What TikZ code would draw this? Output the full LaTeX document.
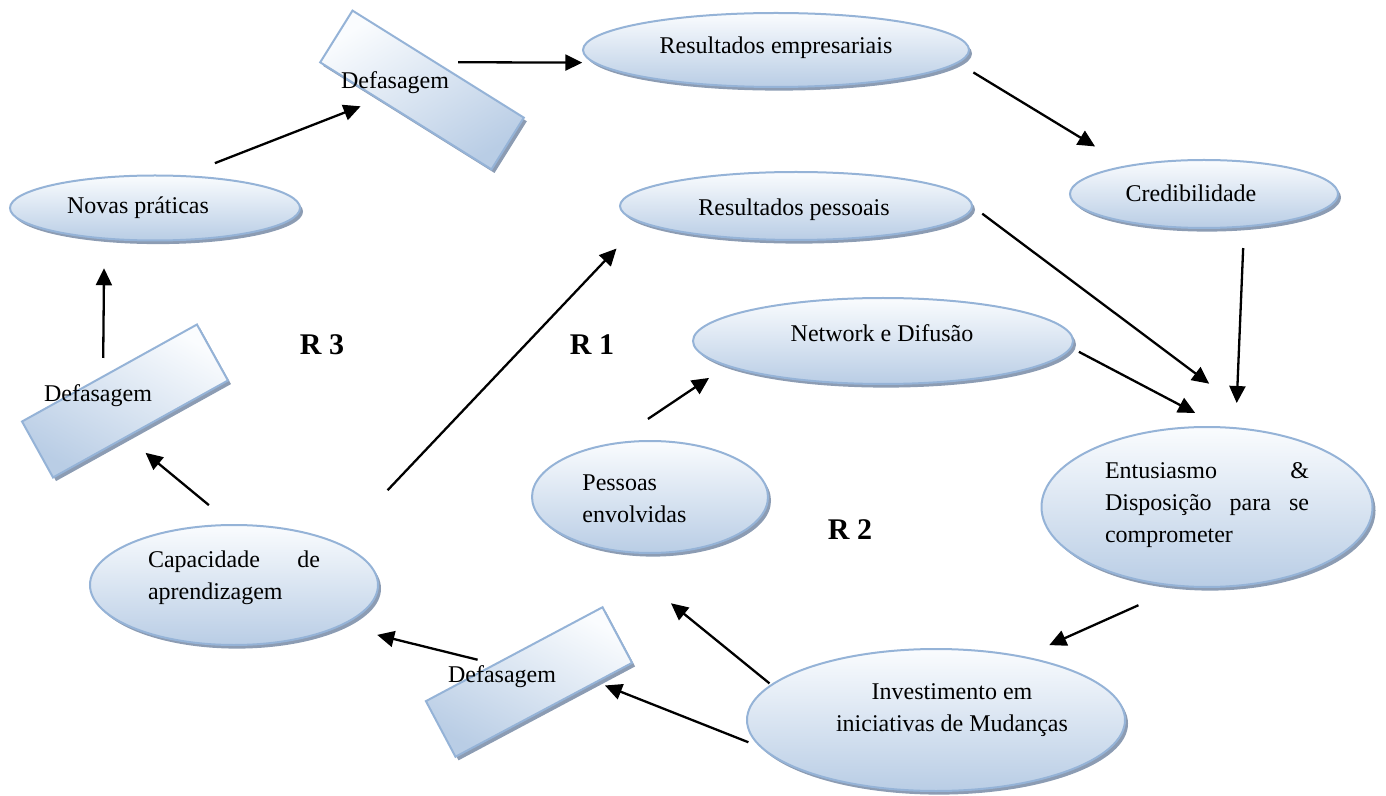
\documentclass[tikz,border=0pt]{standalone}
\usepackage{fontspec}
\setmainfont{Liberation Serif}
\usetikzlibrary{shapes.geometric,shadows,arrows.meta}
\definecolor{edgeb}{HTML}{95B3D7}
\definecolor{topc}{HTML}{FAFCFE}
\definecolor{botc}{HTML}{B9CDE5}
\definecolor{shadc}{HTML}{8C9CB3}
\begin{document}
\begin{tikzpicture}[x=0.5pt,y=-0.5pt,
 shad/.style={drop shadow={shadow xshift=1.5pt, shadow yshift=-1.8pt, fill=shadc, opacity=1}},
 bub/.style={ellipse, draw=edgeb, line width=1pt, top color=topc, bottom color=botc, inner sep=0pt, outer sep=0pt, shad},
 lagbox/.style={rectangle, draw=edgeb, line width=1pt, inner sep=0pt, outer sep=0pt, shad},
 txt/.style={inner sep=0pt, font=\fontsize{12}{16}\selectfont},
 rlab/.style={inner sep=0pt, font=\fontsize{15}{18}\selectfont\bfseries},
 arr/.style={-{Triangle[length=8.5pt,width=8pt]}, line width=1.15pt, black}]
\useasboundingbox (0,0) rectangle (1386,796);
% ellipses
\node[bub, minimum width=193pt, minimum height=37pt] (emp) at (776,50) {};
\node[bub, minimum width=134pt, minimum height=34pt] (cred) at (1204,194) {};
\node[bub, minimum width=176pt, minimum height=34pt] (pes) at (796,206) {};
\node[bub, minimum width=145pt, minimum height=32.5pt] (nov) at (155,208) {};
\node[bub, minimum width=190pt, minimum height=43pt] (net) at (883,341) {};
\node[bub, minimum width=118pt, minimum height=56pt] (pess) at (650,497) {};
\node[bub, minimum width=165.5pt, minimum height=80pt] (ent) at (1207,507) {};
\node[bub, minimum width=144pt, minimum height=60pt] (cap) at (234,585) {};
\node[bub, minimum width=189pt, minimum height=71pt] (inv) at (936,720) {};
% delay boxes
\node[lagbox, minimum width=101pt, minimum height=30.5pt, rotate=-32, top color=topc, bottom color=botc, shading angle=32] (dA) at (422,90) {};
\node[lagbox, minimum width=100pt, minimum height=32pt, rotate=29, top color=topc, bottom color=botc, shading angle=-29] (dL) at (125,401) {};
\node[lagbox, minimum width=100pt, minimum height=31.5pt, rotate=28, top color=topc, bottom color=botc, shading angle=-28] (dB) at (529,682) {};
% texts
\node[txt] (t-emp) at (776,48) {Resultados empresariais};
\node[txt] (t-cred) at (1191,193) {Credibilidade};
\node[txt] (t-pes) at (794,210) {Resultados pessoais};
\node[txt] (t-nov) at (138,208) {Novas práticas};
\node[txt] (t-net) at (882,333) {Network e Difusão};
\node[txt, anchor=west, align=left] (t-pess) at (582,499) {Pessoas\\envolvidas};
\node[txt, text width=102pt, align=left] (t-ent) at (1207,505) {Entusiasmo\hfill\&\\Disposição\hfill para\hfill se\\comprometer};
\node[txt, text width=86pt, align=left] (t-cap) at (234,578) {Capacidade\hfill de\\aprendizagem};
\node[txt, align=center] (t-inv) at (952,710) {Investimento em\\iniciativas de Mudanças};
\node[txt] (t-dA) at (395,83) {Defasagem};
\node[txt] (t-dL) at (98,396) {Defasagem};
\node[txt] (t-dB) at (502,677) {Defasagem};
\node[rlab] (r3) at (322,345) {R 3};
\node[rlab] (r1) at (592,345) {R 1};
\node[rlab] (r2) at (850,530) {R 2};
% arrows
\draw[arr, shorten <=17.75pt, shorten >=9.9pt] (nov.50) -- (dA.-136.6);
\draw[arr, shorten <=11.6pt, shorten >=6.2pt] (dA.97.5) -- (emp.-176.2);
\draw[arr, shorten <=9.4pt, shorten >=18.9pt] (emp.-4.2) -- (cred.160.3);
\draw[arr, shorten <=10.8pt, shorten >=12.6pt] (cred.-39) -- (ent.70.5);
\draw[arr, shorten <=6.4pt, shorten >=42.4pt] (pes.0.55) -- (ent.46.7);
\draw[arr, shorten <=4.6pt, shorten >=15.4pt] (net.-2) -- (ent.79.1);
\draw[arr, shorten <=23.5pt, shorten >=14.5pt] (ent.-108.2) -- (inv.36.8);
\draw[arr, shorten <=1.3pt, shorten >=43.4pt] (inv.168.7) -- (pess.-132.1);
\draw[arr, shorten <=7.25pt, shorten >=4.75pt] (inv.-171.1) -- (dB.-28.5);
\draw[arr, shorten <=9.2pt, shorten >=19.2pt] (dB.124.8) -- (cap.-21);
\draw[arr, shorten <=15.6pt, shorten >=12.5pt] (cap.91.8) -- (dL.-117.7);
\draw[arr, shorten <=9.3pt, shorten >=14.9pt] (dL.103) -- (nov.-149.8);
\draw[arr, shorten <=36.5pt, shorten >=18.1pt] (cap.22.2) -- (pes.-174.3);
\draw[arr, shorten <=22.7pt, shorten >=11pt] (pess.127.3) -- (net.-171.7);
\end{tikzpicture}
\end{document}
